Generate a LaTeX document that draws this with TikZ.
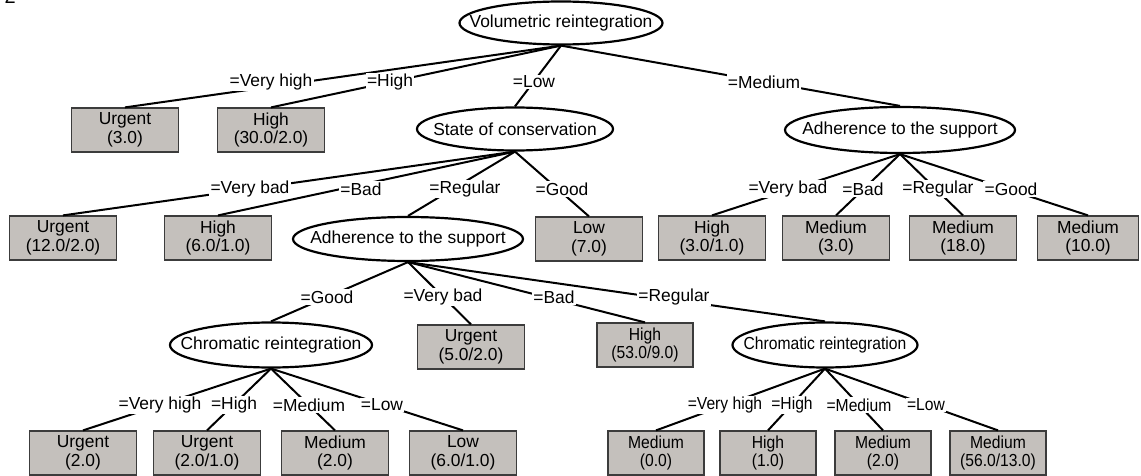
\documentclass[tikz,border=0pt]{standalone}
\usepackage{fontspec}
\setmainfont{Liberation Sans}
\newfontfamily\narrowfont[FakeStretch=0.9]{Liberation Sans}
\usetikzlibrary{shapes.geometric}
\definecolor{leafgray}{HTML}{C4C0BC}
\definecolor{leafline}{HTML}{3C3C3C}
\tikzset{
  every node/.style={font=\fontsize{17.4}{18.5}\selectfont},
  narrow/.style={font=\narrowfont\fontsize{17.4}{18.5}\selectfont},
  test/.style={ellipse,draw,line width=2.2pt,minimum height=43pt,inner sep=0pt,
    execute at begin node={\setbox0=\hbox\bgroup},
    execute at end node={\egroup\makebox[0pt]{\box0}}},
  leaf/.style={draw=leafline,fill=leafgray,line width=1.2pt,minimum width=107pt,
    minimum height=44pt,align=center,inner sep=0pt},
  edge/.style={line width=2pt},
  cond/.style={fill=white,inner sep=1.2pt}}
\begin{document}
\begin{tikzpicture}[x=1pt,y=-1pt]
\useasboundingbox (0,0) rectangle (1141,476);
\node[anchor=base west,font=\fontsize{20}{20}\selectfont] (fig) at (1,4) {2};

% attribute nodes
\node[test,minimum width=203pt] (root) at (561,23) {Volumetric reintegration};
\node[test,minimum width=196pt] (soc) at (515,129) {State of conservation};
\node[test,minimum width=230pt,minimum height=46pt] (atsR) at (900,130) {Adherence to the support};
\node[test,minimum width=230pt,minimum height=44pt] (atsM) at (408,239) {Adherence to the support};
\node[test,minimum width=202pt,minimum height=45pt] (crL) at (271,345) {Chromatic reintegration};
\node[test,narrow,minimum width=185pt,minimum height=45pt] (crR) at (825,345) {Chromatic reintegration};

% leaves
\node[leaf] (u1) at (125,130) {Urgent\\(3.0)};
\node[leaf] (h1) at (271,130) {High\\(30.0/2.0)};
\node[leaf] (u2) at (63,238) {Urgent\\(12.0/2.0)};
\node[leaf] (h2) at (218,238) {High\\(6.0/1.0)};
\node[leaf] (lo1) at (589,239) {Low\\(7.0)};
\node[leaf] (h3) at (712,238) {High\\(3.0/1.0)};
\node[leaf] (m1) at (836,238) {Medium\\(3.0)};
\node[leaf] (m2) at (963,238) {Medium\\(18.0)};
\node[leaf,minimum width=101pt] (m3) at (1088,238) {Medium\\(10.0)};
\node[leaf] (u3) at (471,347) {Urgent\\(5.0/2.0)};
\node[leaf,narrow,minimum width=96pt] (h4) at (645,345) {High\\(53.0/9.0)};
\node[leaf] (u4) at (83,453) {Urgent\\(2.0)};
\node[leaf] (u5) at (207,453) {Urgent\\(2.0/1.0)};
\node[leaf] (m4) at (335,453) {Medium\\(2.0)};
\node[leaf] (lo2) at (463,453) {Low\\(6.0/1.0)};
\node[leaf,narrow,minimum width=96pt] (m5) at (656,453) {Medium\\(0.0)};
\node[leaf,narrow,minimum width=96pt] (h5) at (768,453) {High\\(1.0)};
\node[leaf,narrow,minimum width=96pt] (m6) at (883,453) {Medium\\(2.0)};
\node[leaf,narrow,minimum width=96pt] (m7) at (998,453) {Medium\\(56.0/13.0)};

\foreach \p/\c in {root/u1,root/h1,root/soc,root/atsR,soc/u2,soc/h2,soc/atsM,soc/lo1,
  atsR/h3,atsR/m1,atsR/m2,atsR/m3,atsM/crL,atsM/u3,atsM/h4,atsM/crR,
  crL/u4,crL/u5,crL/m4,crL/lo2,crR/m5,crR/h5,crR/m6,crR/m7}
  \draw[edge] (\p.south) -- (\c.north);

% branch values
\foreach \x/\y/\t [count=\i] in {271/82/=Very high,390/82/=High,534/82/=Low,764/82/=Medium,
  250/189/=Very bad,361/189/=Bad,465/189/=Regular,562/189/=Good,
  788/189/=Very bad,863/189/=Bad,938/189/=Regular,1011/189/=Good,
  327/297/=Good,443/297/=Very bad,554/297/=Bad,674/297/=Regular,
  160/405/=Very high,234/405/=High,309/405/=Medium,382/405/=Low}
  \node[cond] (v\i) at (\x,\y) {\t};
\foreach \x/\y/\t [count=\i] in {725/405/=Very high,792/405/=High,859/405/=Medium,926/405/=Low}
  \node[cond,narrow] (w\i) at (\x,\y) {\t};
\end{tikzpicture}
\end{document}
